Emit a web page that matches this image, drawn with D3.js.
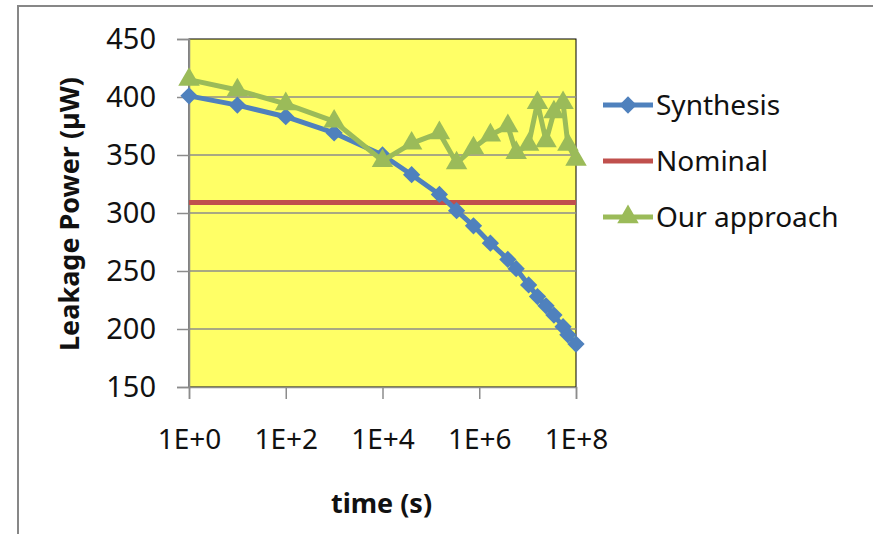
<!DOCTYPE html>
<html>
<head>
<meta charset="utf-8">
<script src="https://cdn.jsdelivr.net/npm/d3@7"></script>
<style>
  body { margin: 0; background: #fff; }
  svg { display: block; font-family: "Noto Sans", "Open Sans", sans-serif; }
</style>
</head>
<body>
<svg width="873" height="534"></svg>
<script>
// time points (s)
var times = [1, 10, 100, 1000, 1e4, 4e4, 1.5e5, 3.4e5, 7.6e5, 1.7e6, 3.9e6, 5.8e6,
             1.05e7, 1.6e7, 2.4e7, 3.5e7, 5.4e7, 6.8e7, 1e8];
var synthesis = [401, 393, 383, 369, 350, 333, 316, 302, 289, 274, 260, 252,
                 238, 228, 220, 212, 202, 195, 187];
var ourApproach = [415, 406, 394, 379, 345, 360, 369, 343, 356, 367, 375, 352,
                   359, 395, 362, 387, 395, 359, 346];
var nominal = times.map(function() { return 309; });
var xTicks = [1, 1e2, 1e4, 1e6, 1e8];
var xTickLabels = ["1E+0", "1E+2", "1E+4", "1E+6", "1E+8"];
var yTicks = [150, 200, 250, 300, 350, 400, 450];
var seriesNames = ["Synthesis", "Nominal", "Our approach"];

function drawChart() {
    var svg = d3.select("svg");
    var left = 189, right = 576, top = 39, bottom = 387;

    // outer chart frame (cropped at right/bottom)
    svg.append("rect")
        .attr("x", 18).attr("y", 6)
        .attr("width", 900).attr("height", 600)
        .attr("fill", "#fff")
        .attr("stroke", "#878787")
        .attr("stroke-width", 2);

    var x = d3.scaleLog().domain([1, 1e8]).range([left, right]);
    var y = d3.scaleLinear().domain([150, 450]).range([bottom, top]);

    // plot area
    svg.append("rect")
        .attr("x", left).attr("y", top)
        .attr("width", right - left).attr("height", bottom - top)
        .attr("fill", "#ffff66")
        .attr("stroke", "#000")
        .attr("stroke-width", 1);

    // gridlines
    svg.append("g").selectAll("line")
        .data(yTicks.slice(1, -1))
        .join("line")
        .attr("x1", left).attr("x2", right)
        .attr("y1", function(d) { return y(d); })
        .attr("y2", function(d) { return y(d); })
        .attr("stroke", "#8c8c8c")
        .attr("stroke-width", 1.5);

    // y axis
    var yAxis = svg.append("g")
        .attr("transform", "translate(" + left + ",0)")
        .call(d3.axisLeft(y).tickValues(yTicks).tickSize(12).tickPadding(21));
    yAxis.select(".domain").attr("stroke", "#8c8c8c").attr("stroke-width", 1.5);
    yAxis.selectAll(".tick line").attr("stroke", "#8c8c8c").attr("stroke-width", 1.5);
    yAxis.selectAll("text")
        .attr("font-size", 29)
        .attr("font-family", "Noto Sans")
        .attr("fill", "#111");

    // x axis
    var xAxis = svg.append("g")
        .attr("transform", "translate(0," + bottom + ")")
        .call(d3.axisBottom(x).tickValues(xTicks)
            .tickFormat(function(d, i) { return xTickLabels[i]; })
            .tickSize(12).tickPadding(30));
    xAxis.select(".domain").attr("stroke", "#8c8c8c").attr("stroke-width", 1.5);
    xAxis.selectAll(".tick line").attr("stroke", "#8c8c8c").attr("stroke-width", 1.5);
    xAxis.selectAll("text")
        .attr("font-size", 28)
        .attr("font-family", "Noto Sans")
        .attr("fill", "#111");

    // axis titles
    svg.append("text")
        .attr("x", (left + right) / 2 - 1)
        .attr("y", 513)
        .attr("text-anchor", "middle")
        .attr("font-size", 27)
        .attr("font-weight", "bold")
        .attr("fill", "#111")
        .text("time (s)");

    svg.append("text")
        .attr("transform", "translate(79,214) rotate(-90)")
        .attr("text-anchor", "middle")
        .attr("font-size", 27)
        .attr("font-weight", "bold")
        .attr("fill", "#111")
        .text("Leakage Power (µW)");

    var line = d3.line()
        .x(function(d) { return x(d[0]); })
        .y(function(d) { return y(d[1]); });

    function pairs(vals) {
        return times.map(function(t, i) { return [t, vals[i]]; });
    }

    var diamond = d3.symbol().type(d3.symbolDiamond2).size(190);
    var triangle = d3.symbol().type(d3.symbolTriangle).size(200);

    // Nominal
    svg.append("path")
        .datum(pairs(nominal))
        .attr("fill", "none")
        .attr("stroke", "#c0504d")
        .attr("stroke-width", 5)
        .attr("d", line);

    // Synthesis
    svg.append("path")
        .datum(pairs(synthesis))
        .attr("fill", "none")
        .attr("stroke", "#4f81bd")
        .attr("stroke-width", 5)
        .attr("stroke-linejoin", "round")
        .attr("d", line);
    svg.append("g").selectAll("path")
        .data(pairs(synthesis))
        .join("path")
        .attr("transform", function(d) { return "translate(" + x(d[0]) + "," + y(d[1]) + ")"; })
        .attr("d", diamond)
        .attr("fill", "#4f81bd");

    // Our approach
    svg.append("path")
        .datum(pairs(ourApproach))
        .attr("fill", "none")
        .attr("stroke", "#9bbb59")
        .attr("stroke-width", 5)
        .attr("stroke-linejoin", "round")
        .attr("d", line);
    svg.append("g").selectAll("path")
        .data(pairs(ourApproach))
        .join("path")
        .attr("transform", function(d) { return "translate(" + x(d[0]) + "," + y(d[1]) + ")"; })
        .attr("d", triangle)
        .attr("fill", "#9bbb59");

    // legend
    var items = seriesNames.map(function(name, i) {
        return { name: name,
                 color: ["#4f81bd", "#c0504d", "#9bbb59"][i],
                 marker: [diamond, null, triangle][i] };
    });
    var legend = svg.append("g").selectAll("g")
        .data(items)
        .join("g")
        .attr("transform", function(d, i) { return "translate(603," + (105 + i * 56) + ")"; });
    legend.append("line")
        .attr("x1", 0).attr("x2", 50)
        .attr("stroke", function(d) { return d.color; })
        .attr("stroke-width", 5);
    legend.filter(function(d) { return d.marker; })
        .append("path")
        .attr("transform", "translate(25,0)")
        .attr("d", function(d) { return d.marker(); })
        .attr("fill", function(d) { return d.color; });
    legend.append("text")
        .attr("x", 53)
        .attr("dy", "0.35em")
        .attr("font-size", 28)
        .attr("fill", "#111")
        .text(function(d) { return d.name; });
}

drawChart();
</script>
</body>
</html>
